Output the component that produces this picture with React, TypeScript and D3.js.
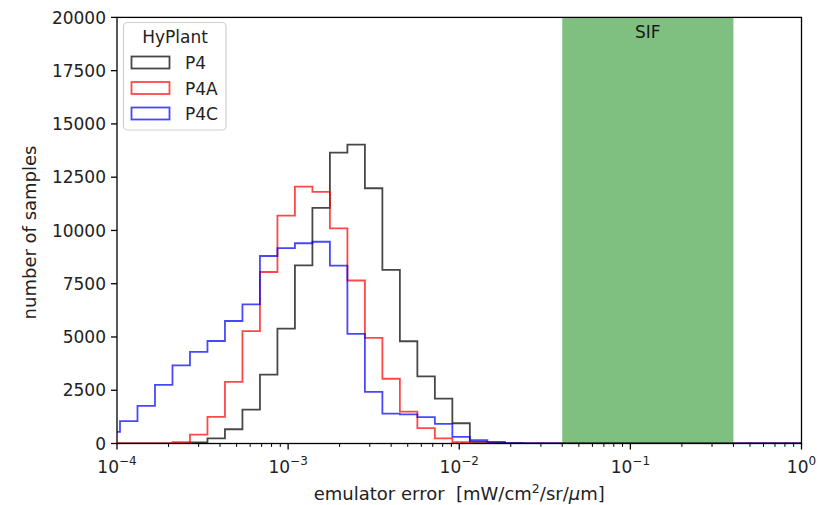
import React from "react";
import * as d3 from "d3";

// histogram bins (log10 of lower edge of first bin, width in decades)
const binStartLog = -4.0847;
const binWidthLog = 0.10222;

const seriesNames = ["P4", "P4A", "P4C"];
const seriesColors = ["#000000", "#ff0000", "#0000ff"];

const P4 = [0, 0, 0, 0, 0, 50, 240, 670, 1590, 3230, 5390, 8360, 11060, 13650, 14030, 11980, 8150, 4800, 3150, 2110, 950, 80, 40, 20, 0, 0, 0, 0, 0, 0, 0, 0, 0, 0, 0, 0, 0, 0, 0, 0];
const P4A = [0, 0, 0, 0, 60, 420, 1250, 2890, 5270, 8050, 10700, 12060, 11810, 10100, 7650, 4960, 3040, 1500, 720, 240, 60, 10, 0, 0, 0, 0, 0, 0, 0, 0, 0, 0, 0, 0, 0, 0, 0, 0, 0, 0];
const P4C = [550, 1050, 1770, 2750, 3670, 4300, 4810, 5750, 6530, 8800, 9170, 9400, 9470, 8350, 5150, 2420, 1400, 1370, 1240, 920, 310, 160, 80, 20, 0, 0, 0, 0, 0, 0, 0, 0, 0, 0, 0, 0, 0, 0, 0, 0];

const yTicks = [0, 2500, 5000, 7500, 10000, 12500, 15000, 17500, 20000];
const xTickExps = [-4, -3, -2, -1, 0];
const sifRange = [0.04, 0.4];

const W = 818;
const H = 505;
const L = 117;
const R = 801.5;
const T = 17.4;
const B = 443.5;
const FONT = "DejaVu Sans, sans-serif";
const FS = 17;
const LFS = 18;

export default function App() {
  const x = d3.scaleLog().domain([1e-4, 1]).range([L, R]);
  const y = d3.scaleLinear().domain([0, 20000]).range([B, T]);
  const allSeries = [P4, P4A, P4C];

  const edges = d3.range(P4.length + 1).map((i) => Math.pow(10, binStartLog + i * binWidthLog));

  const stepPath = (vals: number[]) => {
    const p = d3.path();
    p.moveTo(x(edges[0]), y(0));
    vals.forEach((v, i) => {
      p.lineTo(x(edges[i]), y(v));
      p.lineTo(x(edges[i + 1]), y(v));
    });
    p.lineTo(x(edges[vals.length]), y(0));
    return p.toString();
  };

  const minor: number[] = [];
  for (let e = -4; e < 0; e++) for (let m = 2; m <= 9; m++) minor.push(m * Math.pow(10, e));

  return (
    <svg width={W} height={H} style={{ position: "absolute", left: 0, top: 0, background: "#fff" }} fontFamily={FONT}>
      <defs>
        <clipPath id="plotclip">
          <rect x={L} y={T - 2} width={R - L} height={B - T + 2} />
        </clipPath>
      </defs>
      <g clipPath="url(#plotclip)">
        {allSeries.map((s, i) => (
          <path key={i} d={stepPath(s)} fill="none" stroke={seriesColors[i]} strokeOpacity={0.72} strokeWidth={1.8} />
        ))}
        <rect x={x(sifRange[0])} y={T} width={x(sifRange[1]) - x(sifRange[0])} height={B - T} fill="#008000" fillOpacity={0.5} />
      </g>
      <text x={x(Math.sqrt(sifRange[0] * sifRange[1]))} y={38} textAnchor="middle" fontSize={FS} fill="#1a1a1a">SIF</text>

      {/* spines */}
      <rect x={L} y={T} width={R - L} height={B - T} fill="none" stroke="#000" strokeWidth={1.3} />

      {/* y ticks */}
      {yTicks.map((t) => (
        <g key={t}>
          <line x1={L - 6} x2={L} y1={y(t)} y2={y(t)} stroke="#000" strokeWidth={1.3} />
          <text x={L - 11} y={y(t)} dy="0.36em" textAnchor="end" fontSize={FS} fill="#222">{t}</text>
        </g>
      ))}

      {/* x minor ticks */}
      {minor.map((m, i) => (
        <line key={i} x1={x(m)} x2={x(m)} y1={B} y2={B + 3.4} stroke="#000" strokeWidth={1} />
      ))}
      {/* x major ticks */}
      {xTickExps.map((e) => (
        <g key={e}>
          <line x1={x(Math.pow(10, e))} x2={x(Math.pow(10, e))} y1={B} y2={B + 6} stroke="#000" strokeWidth={1.3} />
          <text x={x(Math.pow(10, e))} y={473} textAnchor="middle" fontSize={FS} fill="#222">
            10
            <tspan dy={-8} fontSize={12}>{e === 0 ? "0" : "\u2212" + Math.abs(e)}</tspan>
          </text>
        </g>
      ))}

      {/* axis labels */}
      <text x={(L + R) / 2} y={500} textAnchor="middle" fontSize={LFS} fill="#222">
        {"emulator error \u00a0[mW/cm"}<tspan dy={-7} fontSize={12.5}>2</tspan><tspan dy={7}>/sr/</tspan><tspan fontStyle="italic">μ</tspan>m]
      </text>
      <text transform={`translate(36,${(T + B) / 2 + 2}) rotate(-90)`} textAnchor="middle" fontSize={LFS} fill="#222">number of samples</text>

      {/* legend */}
      <rect x={123.5} y={22.5} width={102.5} height={107.5} rx={4} fill="#fff" fillOpacity={0.8} stroke="#d0d0d0" strokeWidth={1.2} />
      <text x={175} y={43} textAnchor="middle" fontSize={FS} fill="#222">HyPlant</text>
      {seriesNames.map((n, i) => (
        <g key={n}>
          <rect x={131.5} y={56.5 + i * 25.5} width={38} height={12} fill="none" stroke={seriesColors[i]} strokeOpacity={0.72} strokeWidth={1.8} />
          <text x={185} y={69 + i * 25.5} fontSize={FS} fill="#222">{n}</text>
        </g>
      ))}
    </svg>
  );
}
